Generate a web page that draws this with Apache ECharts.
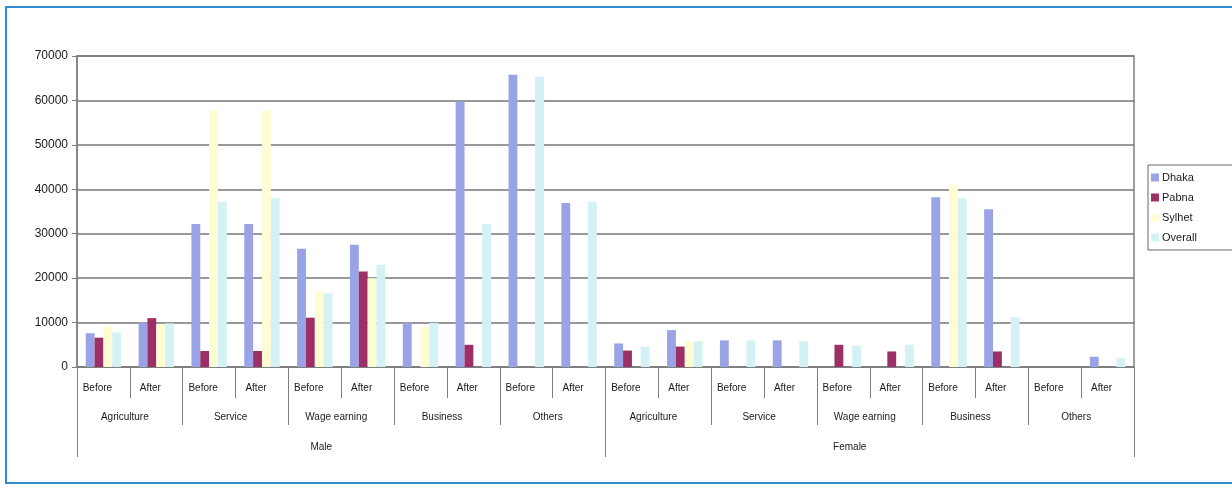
<!DOCTYPE html>
<html>
<head>
<meta charset="utf-8">
<script src="https://cdn.jsdelivr.net/npm/echarts@6/dist/echarts.min.js"></script>
<style>
  html, body { margin: 0; padding: 0; background: #ffffff; }
  #chart { width: 1232px; height: 491px; }
</style>
</head>
<body>
<div id="chart"></div>
<script>
// Occupation income before and after, by sex and occupation group
const periods = ['Before', 'After', 'Before', 'After', 'Before', 'After', 'Before', 'After', 'Before', 'After',
                 'Before', 'After', 'Before', 'After', 'Before', 'After', 'Before', 'After', 'Before', 'After'];
const occupations = ['Agriculture', 'Service', 'Wage earning', 'Business', 'Others',
                     'Agriculture', 'Service', 'Wage earning', 'Business', 'Others'];
const sexes = ['Male', 'Female'];
const seriesNames = ['Dhaka', 'Pabna', 'Sylhet', 'Overall'];

const dhaka   = [7600, 10000, 32200, 32200, 26600, 27500, 9900, 59700, 65800, 36900,
                 5300, 8300, 6000, 6000, null, null, 38200, 35500, null, 2300];
const pabna   = [6600, 11000, 3600, 3600, 11100, 21500, null, 5000, null, null,
                 3700, 4600, null, null, 5000, 3500, null, 3500, null, null];
const sylhet  = [9000, 9500, 57800, 57800, 17000, 20000, 9000, null, null, null,
                 null, 5700, null, null, null, null, 41000, null, null, null];
const overall = [7800, 9800, 37200, 38000, 16600, 23000, 9900, 32200, 65400, 37200,
                 4600, 5800, 6000, 5800, 4800, 5000, 38000, 11200, null, 2000];

const yTicks = [0, 10000, 20000, 30000, 40000, 50000, 60000, 70000];

const colors = ['#9aa3e6', '#9b2f66', '#fefcd2', '#d4f2f5'];
const values = [dhaka, pabna, sylhet, overall];

const axisGray = '#7f7f7f';
const labelFont = { fontFamily: 'Liberation Sans, Arial, sans-serif', fontSize: 10, color: '#1a1a1a' };

const chart = echarts.init(document.getElementById('chart'), null, { renderer: 'canvas' });

chart.setOption({
  backgroundColor: '#ffffff',
  animation: false,
  color: colors,
  graphic: [{
    type: 'rect',
    shape: { x: 6, y: 7, width: 1250, height: 476 },
    style: { fill: 'none', stroke: '#2f8ccf', lineWidth: 2 },
    silent: true
  }],
  legend: {
    orient: 'vertical',
    left: 1148,
    top: 165,
    data: seriesNames,
    icon: 'rect',
    itemWidth: 8,
    itemHeight: 8,
    itemGap: 9,
    padding: [7, 40, 7, 3],
    borderColor: '#666',
    borderWidth: 1,
    textStyle: { fontFamily: 'Liberation Sans, Arial, sans-serif', fontSize: 11, color: '#1a1a1a', padding: [0, 0, 0, -2] }
  },
  grid: {
    left: 77, right: 98, top: 56, bottom: 124,
    show: true, borderColor: axisGray, borderWidth: 1.5, backgroundColor: 'transparent'
  },
  xAxis: [
    {
      type: 'category',
      data: periods,
      position: 'bottom',
      axisLine: { show: true, lineStyle: { color: axisGray, width: 1.5 } },
      axisTick: { show: true, interval: 0, length: 31, lineStyle: { color: axisGray, width: 1 } },
      axisLabel: Object.assign({ interval: 0, margin: 16, padding: [0, 12, 0, 0] }, labelFont)
    },
    {
      type: 'category',
      data: occupations,
      position: 'bottom',
      axisLine: { show: false },
      axisTick: { show: true, interval: 0, length: 58, lineStyle: { color: axisGray, width: 1 } },
      axisLabel: Object.assign({ interval: 0, margin: 45, padding: [0, 10, 0, 0] }, labelFont)
    },
    {
      type: 'category',
      data: sexes,
      position: 'bottom',
      axisLine: { show: false },
      axisTick: { show: true, interval: 0, length: 90, lineStyle: { color: axisGray, width: 1 } },
      axisLabel: Object.assign({ interval: 0, margin: 75, padding: [0, 40, 0, 0] }, labelFont)
    }
  ],
  yAxis: {
    type: 'value',
    min: yTicks[0],
    max: yTicks[yTicks.length - 1],
    interval: yTicks[1] - yTicks[0],
    axisLine: { show: true, lineStyle: { color: axisGray, width: 1.5 } },
    axisTick: { show: true, length: 5, lineStyle: { color: axisGray } },
    splitLine: { show: true, lineStyle: { color: '#777', width: 1.5 } },
    axisLabel: {
      margin: 9,
      formatter: (v) => String(v),
      fontFamily: 'Liberation Sans, Arial, sans-serif',
      fontSize: 12,
      color: '#1a1a1a'
    }
  },
  series: seriesNames.map((name, i) => ({
    name: name,
    type: 'bar',
    xAxisIndex: 0,
    data: values[i],
    barGap: '0%',
    barCategoryGap: '33%',
    itemStyle: { color: colors[i] }
  }))
});
</script>
</body>
</html>
